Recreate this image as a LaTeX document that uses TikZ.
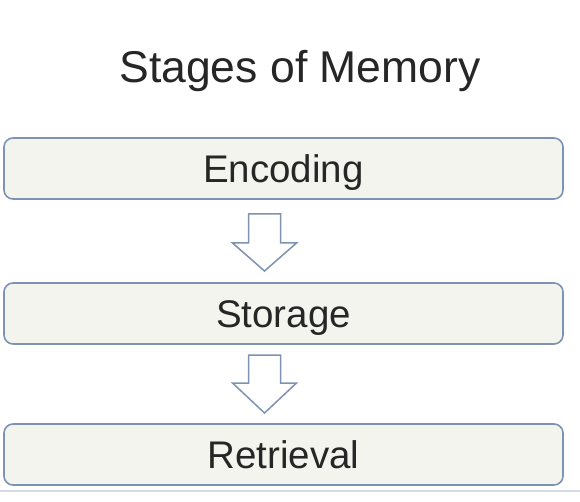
\documentclass[tikz,border=0pt]{standalone}
\usepackage{fontspec}
\setmainfont{Liberation Sans}
\definecolor{boxfill}{HTML}{F4F4EF}
\definecolor{boxline}{HTML}{7D93B4}
\definecolor{rulecolor}{HTML}{D5DCE6}
\begin{document}
\begin{tikzpicture}[x=1pt,y=-1pt,
  stagebox/.style={draw=boxline, line width=1.6pt, fill=boxfill, rounded corners=9pt,
    minimum width=559pt, minimum height=61pt, inner sep=0pt, text height=29pt, text depth=1pt,
    font=\fontsize{38.5}{40}\selectfont, text=black!85},
  blockarrow/.style={draw=boxline, line width=1.5pt, fill=white, line join=miter}]
\useasboundingbox[fill=white] (0,0) rectangle (580,502);
\node[font=\fontsize{44.5}{46}\selectfont, text=black!85] (title) at (300,71) {Stages of Memory};
\node[stagebox] (enc) at (283.5,168.5) {Encoding};
\node[stagebox] (sto) at (283.5,313.5) {Storage};
\node[stagebox] (ret) at (283.5,454.5) {Retrieval};
% block arrows
\coordinate (a1) at (264.5,214);
\coordinate (a2) at (264.5,355);
\draw[blockarrow] (a1) ++(-16,0) -- ++(0,29) -- ++(-16,0) -- ++(32,28) -- ++(32,-28) -- ++(-16,0) -- ++(0,-29) -- cycle;
\draw[blockarrow] (a2) ++(-16,0) -- ++(0,28) -- ++(-16,0) -- ++(32,30) -- ++(32,-30) -- ++(-16,0) -- ++(0,-28) -- cycle;
\draw[draw=rulecolor, line width=2pt] (0,491) -- (580,491);
\end{tikzpicture}
\end{document}
